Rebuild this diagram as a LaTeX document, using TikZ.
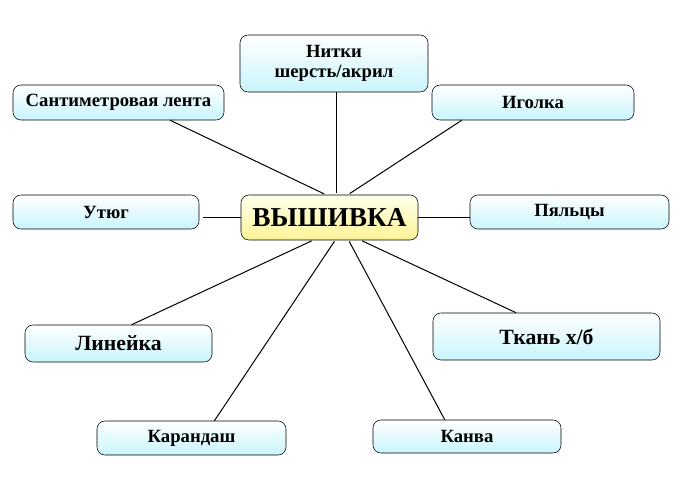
\documentclass[tikz,border=0pt]{standalone}
\usepackage{fontspec}
\setmainfont{Liberation Serif}
\usetikzlibrary{positioning}
\definecolor{boxcyan}{RGB}{200,245,252}
\definecolor{boxyel}{RGB}{252,243,150}
\tikzstyle{bx}=[draw=black,rounded corners=6pt,minimum width=140pt,minimum height=25.5pt,top color=white,bottom color=boxcyan,font=\bfseries\fontsize{14}{15}\selectfont,align=center,inner sep=1pt]
\tikzstyle{ctr}=[bx,top color=yellow!8,bottom color=boxyel,font=\bfseries\fontsize{20.5}{24}\selectfont]
\tikzstyle{ln}=[line width=.75pt]

\begin{document}
\begin{tikzpicture}[x=0.75pt,y=-0.75pt]
\useasboundingbox (0,0) rectangle (697,481);
\node[ctr,minimum width=132.75pt,minimum height=33.75pt] (vysh) at (329.5,217.5) {ВЫШИВКА};
\node[bx,minimum width=141pt,minimum height=42.75pt] (nitki) at (334,63.5) {Нитки\\шерсть/акрил};
\node[bx,minimum width=158.25pt,minimum height=26.25pt] (lenta) at (118.5,102.5) {Сантиметровая лента};
\node[bx,minimum width=151.5pt,minimum height=26.25pt] (igolka) at (533,102.5) {Иголка};
\node[bx,minimum width=139.5pt] (utyug) at (106,212) {Утюг};
\node[bx,minimum width=149.25pt] (paltsy) at (569.5,212) {Пяльцы};
\node[bx,minimum width=140.25pt,minimum height=27.75pt,font=\bfseries\fontsize{16.3}{18}\selectfont] (lineyka) at (118.5,343.5) {Линейка};
\node[bx,minimum width=170.25pt,minimum height=35.25pt,font=\bfseries\fontsize{16.3}{18}\selectfont] (tkan) at (546.5,336.5) {Ткань х/б};
\node[bx,minimum width=141.75pt] (karandash) at (191.5,438) {Карандаш};
\node[bx,minimum width=141pt,minimum height=24.75pt] (kanva) at (467,436.5) {Канва};
% lines to the centre
\draw[ln,shorten >=1.5pt] ([xshift=2pt]nitki.south) -- ([xshift=2pt]nitki.south |- vysh.north);
\draw[ln,shorten >=1.5pt] (lenta.-19) -- (vysh.99.5);
\draw[ln,shorten >=1.5pt] (igolka.194) -- (vysh.51.6);
\draw[ln,shorten <=3pt] (utyug.east |- vysh.west) -- (vysh.west);
\draw[ln] (vysh.east) -- (vysh.east -| paltsy.west);
\draw[ln,shorten >=1pt] (lineyka.55) -- (vysh.234.7);
\draw[ln,shorten >=1pt] (karandash.37) -- (vysh.284);
\draw[ln,shorten >=1pt] (kanva.143) -- (vysh.310);
\draw[ln,shorten >=1pt] (tkan.142) -- (vysh.324);
\end{tikzpicture}
\end{document}
